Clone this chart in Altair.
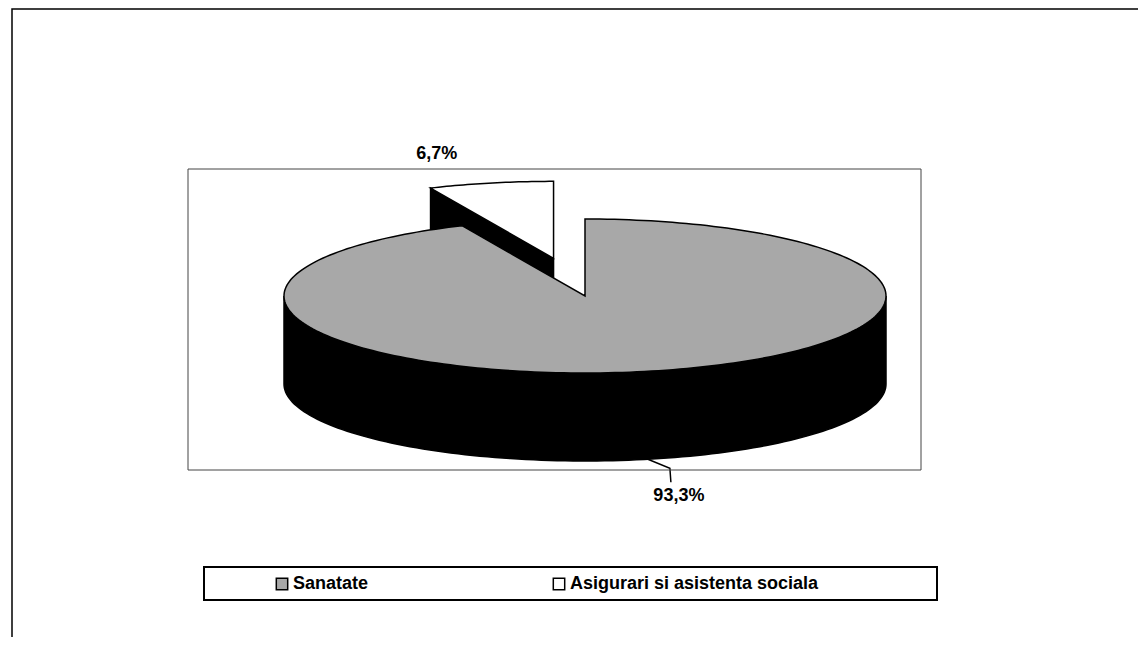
import altair as alt
import numpy as np
import pandas as pd

# ---- data ----
categories = ["Sanatate", "Asigurari si asistenta sociala"]
shares = [93.3, 6.7]
label_texts = ["93,3%", "6,7%"]
colors = ["#a8a8a8", "#ffffff"]
exploded = [0.0, 0.5]

# ---- layout (page pixels) ----
W, H = 1130, 629
CX, CY, RX, RY, DEPTH = 585, 296, 301, 77, 88
FONT = "Liberation Sans"

xs = alt.Scale(domain=[8, 8 + W], range=[0, W], nice=False, zero=False)
ys = alt.Scale(domain=[8, 8 + H], range=[0, H], nice=False, zero=False)

total = sum(shares)
bounds = np.concatenate([[0], np.cumsum(shares)]) / total * 360.0


def pt(phi, ox=0.0, oy=0.0, dz=0.0):
    p = np.radians(phi)
    return CX + ox + RX * np.sin(p), CY + oy - RY * np.cos(p) + dz


def offset(i):
    mid = np.radians((bounds[i] + bounds[i + 1]) / 2)
    return RX * exploded[i] * np.sin(mid), -RY * exploded[i] * np.cos(mid)


rows = []


def add(name, pts):
    for k, (x, y) in enumerate(pts):
        rows.append({"shape": name, "order": k, "x": x, "y": y})


# exploded small slice (index 1)
ox1, oy1 = offset(1)
c1 = (CX + ox1, CY + oy1)
e1 = pt(bounds[1], ox1, oy1)
add("s1_side", [c1, e1, (e1[0], e1[1] + DEPTH), (c1[0], c1[1] + DEPTH)])
arc1 = [pt(a, ox1, oy1) for a in np.linspace(bounds[1], bounds[2], 30)]
add("s1_top", [c1] + arc1)

# big slice (index 0)
front = [pt(a) for a in np.linspace(90, 270, 120)]
back = [pt(a, dz=DEPTH) for a in np.linspace(270, 90, 120)]
add("s0_side", front + back)
arc0 = [pt(a) for a in np.linspace(bounds[0], bounds[1], 240)]
add("s0_top", [(CX, CY)] + arc0)

shapes = pd.DataFrame(rows)


def poly(name, fill):
    return (
        alt.Chart(shapes)
        .transform_filter(alt.datum.shape == name)
        .mark_line(interpolate="linear-closed", fill=fill, stroke="black",
                   strokeWidth=1.5, strokeJoin="miter")
        .encode(
            x=alt.X("x:Q", scale=xs, axis=None),
            y=alt.Y("y:Q", scale=ys, axis=None),
            order="order:Q",
        )
    )


layers = [
    poly("s1_side", "black"),
    poly("s1_top", colors[1]),
    poly("s0_side", "black"),
    poly("s0_top", colors[0]),
]

# ---- data labels and leader line ----
mid0 = (bounds[0] + bounds[1]) / 2
mid1 = (bounds[1] + bounds[2]) / 2
lead_start = pt(mid0, dz=DEPTH)
leader = pd.DataFrame({
    "x": [lead_start[0], lead_start[0] + 22, lead_start[0] + 23],
    "y": [lead_start[1], lead_start[1] + 9, lead_start[1] + 23],
    "o": [0, 1, 2],
})
layers.append(
    alt.Chart(leader).mark_line(color="black", strokeWidth=1.5).encode(
        x=alt.X("x:Q", scale=xs), y=alt.Y("y:Q", scale=ys), order="o:Q")
)
top1 = pt(mid1, ox1, oy1)
labels = pd.DataFrame({
    "x": [lead_start[0] + 31, top1[0] - 54],
    "y": [lead_start[1] + 37, top1[1] - 29],
    "text": label_texts,
})
layers.append(
    alt.Chart(labels).mark_text(font=FONT, fontSize=18, fontWeight="bold",
                                color="black", align="center", baseline="middle")
    .encode(x=alt.X("x:Q", scale=xs), y=alt.Y("y:Q", scale=ys), text="text:N")
)

# ---- frames ----
frames = pd.DataFrame({
    "x": [188, 204, 12], "x2": [921, 937, 1200],
    "y": [169, 567, 9], "y2": [470, 600, 700],
    "sw": [1.0, 2.0, 1.5], "c": ["#444444", "black", "black"],
})
for i in range(len(frames)):
    layers.append(
        alt.Chart(frames.iloc[[i]]).mark_rect(
            fill=None, filled=False, stroke=frames.c[i], strokeWidth=float(frames.sw[i]))
        .encode(x=alt.X("x:Q", scale=xs), x2="x2:Q",
                y=alt.Y("y:Q", scale=ys), y2="y2:Q")
    )

# ---- legend (invisible carrier layer) ----
legend_df = pd.DataFrame({"category": categories, "x": [CX, CX], "y": [CY, CY]})
layers.append(
    alt.Chart(legend_df).mark_square(opacity=0).encode(
        x=alt.X("x:Q", scale=xs), y=alt.Y("y:Q", scale=ys),
        fill=alt.Fill(
            "category:N",
            scale=alt.Scale(domain=categories, range=colors),
            legend=alt.Legend(
                title=None, orient="none", direction="horizontal",
                legendX=265, legendY=567, padding=0,
                symbolType="square", symbolSize=130, symbolStrokeColor="black",
                symbolStrokeWidth=1.5, symbolOpacity=1, labelOffset=2,
                labelFont=FONT, labelFontSize=18, labelFontWeight="bold",
                labelColor="black", columnPadding=181, labelLimit=400,
            ),
        ),
    )
)

chart = (
    alt.layer(*layers)
    .properties(width=W, height=H, autosize=alt.AutoSizeParams(type="none"),
                padding=0, background="white")
    .configure_view(stroke=None)
)

chart.save("out.html", embed_options={"renderer": "svg", "actions": False})
